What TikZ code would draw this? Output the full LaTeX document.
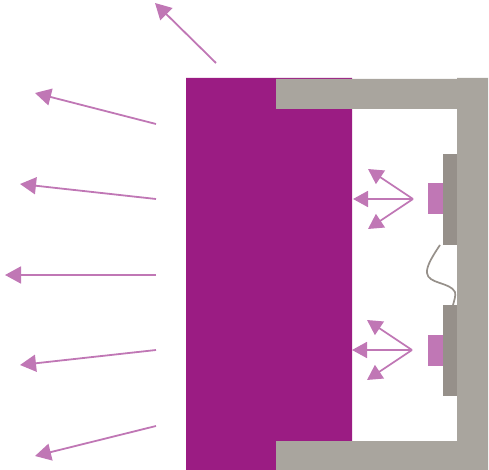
\documentclass[tikz,border=0pt]{standalone}
\usetikzlibrary{arrows.meta}
\definecolor{wall}{HTML}{A9A59E}
\definecolor{chipgray}{HTML}{96908A}
\definecolor{lens}{HTML}{9B1C83}
\definecolor{ray}{HTML}{C077B5}
\tikzset{
  raypath/.style={draw=ray,line width=1.8pt,-{Triangle[length=16pt,width=17pt]}},
  innerray/.style={draw=ray,line width=1.7pt,-{Triangle[length=15pt,width=16pt]}},
  wirepath/.style={draw=chipgray,line width=1.7pt}
}
\begin{document}
\begin{tikzpicture}[x=1pt,y=-1pt]
\useasboundingbox (0,0) rectangle (489,470);
% lens body
\fill[lens] (186,78) -- (352,78) -- (352,441) -- (276,441) -- (276,470) -- (186,470) -- cycle;
% housing
\fill[wall] (276,79) -- (457,79) -- (457,78) -- (488,78) -- (488,470) -- (276,470) -- (276,441) -- (457,441) -- (457,109) -- (276,109) -- cycle;
% chips
\fill[chipgray] (443,154) rectangle (457,245);
\fill[chipgray] (443,305) rectangle (457,396);
\fill[ray] (428,183) rectangle (443,214);
\fill[ray] (428,335) rectangle (443,366);
% wire
\draw[wirepath] (440,245) .. controls (434,254) and (426,266) .. (427,273)
  .. controls (428,284) and (450,282) .. (455,292) .. controls (456,296) and (454,301) .. (453,305);
% inner rays
\coordinate (s1) at (413,199);
\coordinate (s2) at (412,350);
\draw[innerray] (s1) -- (353,199);
\draw[innerray] (s1) -- (368,169);
\draw[innerray] (s1) -- (368,229);
\draw[innerray] (s2) -- (352,350);
\draw[innerray] (s2) -- (367,320);
\draw[innerray] (s2) -- (367,380);
% outer rays
\draw[raypath] (216,63) -- (155,3);
\draw[raypath] (156,124) -- (35,93);
\draw[raypath] (156,199) -- (20,184);
\draw[raypath] (156,275) -- (5,275);
\draw[raypath] (156,350) -- (20,365);
\draw[raypath] (156,426) -- (35,456);
\end{tikzpicture}
\end{document}
